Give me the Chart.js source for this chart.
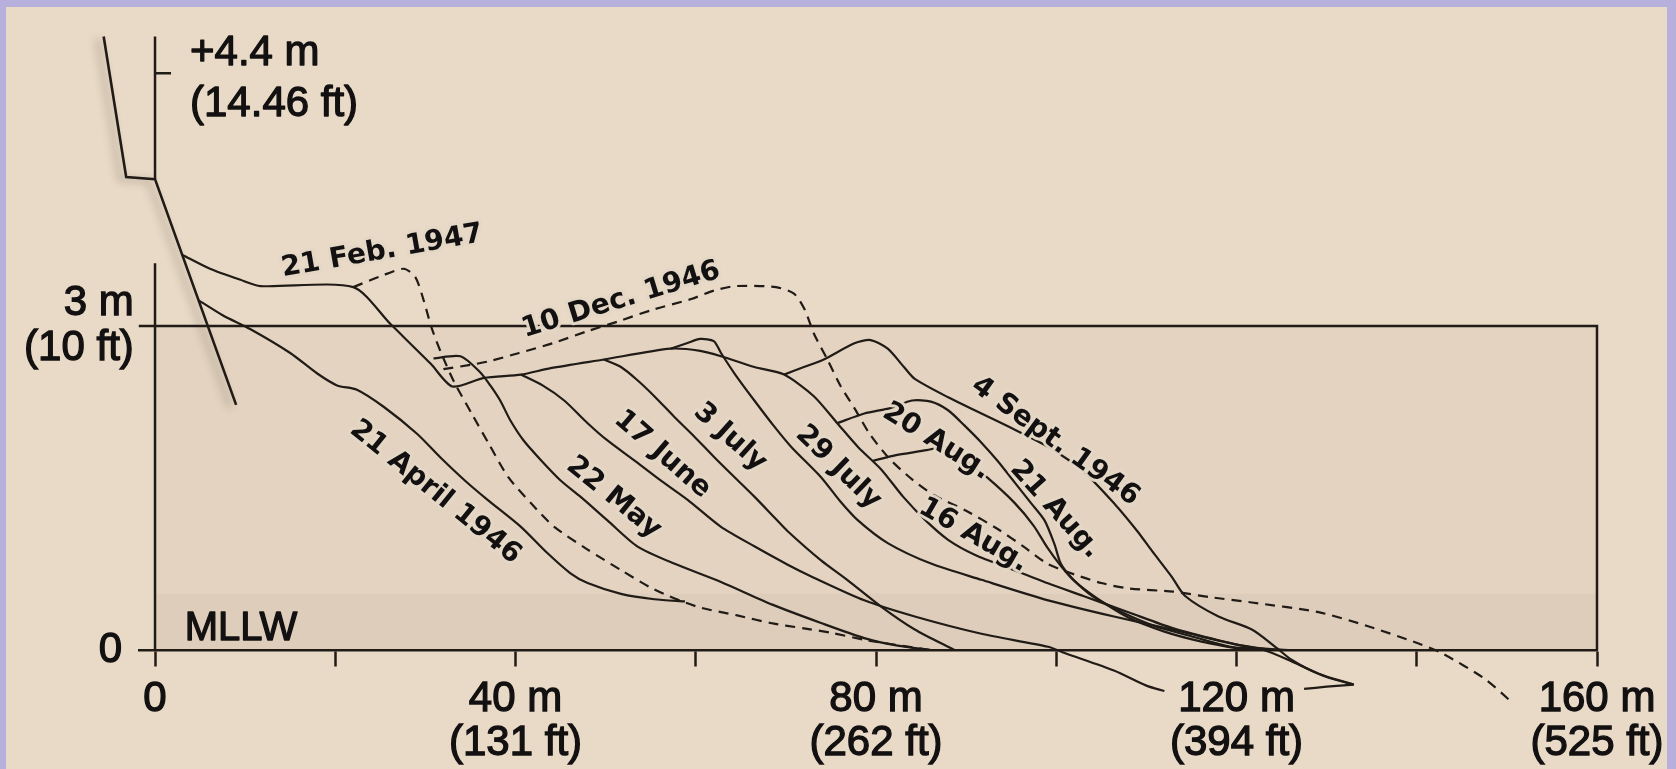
<!DOCTYPE html>
<html>
<head>
<meta charset="utf-8">
<script src="https://cdn.jsdelivr.net/npm/chart.js@4.4.1/dist/chart.umd.min.js"></script>
<style>
  html, body { margin: 0; padding: 0; background: #b7afdc; }
  #wrap { position: relative; width: 1676px; height: 769px; }
  canvas { display: block; }
</style>
</head>
<body>
<div id="wrap"><canvas id="profile"></canvas></div>
<script>
// Beach profiles: [distance seaward of the wall (m), elevation above MLLW (m)]
// (the wall is listed from its toe upward)
const seawall   = [[9.0,2.27],[0,4.36],[-3.2,4.38],[-5.7,5.68]];
const apr21     = [[4.8,3.24],[7.5,3.1],[10.6,2.97],[15.0,2.75],[18.0,2.56],[20.2,2.45],[22.4,2.41],[25.4,2.25],[29.1,2.0],[31.7,1.78],[34.5,1.56],[36.9,1.39],[40.6,1.14],[43.5,0.9],[46.1,0.71],[48.0,0.62],[51.7,0.52],[55.4,0.47],[58.8,0.45]];
const feb21     = [[22.0,3.36],[25.0,3.46],[27.6,3.53],[28.9,3.45],[29.8,3.24],[30.7,2.98],[31.8,2.74],[33.2,2.48],[35.2,2.18],[37.1,1.9],[39.2,1.6],[41.7,1.36],[44.3,1.14],[48.0,0.93],[51.7,0.74],[55.4,0.56],[60.2,0.4],[64.6,0.32],[68.3,0.25],[72.0,0.2],[75.0,0.16],[79.0,0.09],[86.0,0.0]];
const aug16     = [[3.0,3.66],[6.1,3.53],[9.4,3.43],[11.7,3.37],[22.0,3.36],[26.1,3.02],[30.6,2.65],[33.0,2.44],[36.5,2.52],[40.6,2.55],[43.9,2.61],[49.8,2.69],[57.2,2.79],[60.5,2.77],[62.8,2.72],[66.5,2.62],[69.8,2.55],[73.1,2.35],[75.7,2.1],[78.0,1.88],[80.6,1.67],[83.0,1.42],[85.5,1.2],[88.0,1.02],[91.0,0.88],[95.0,0.75],[99.0,0.62],[103.0,0.5],[108.0,0.35],[113.0,0.2],[118.0,0.09],[122.0,0.02],[126.0,0.0]];
const may22     = [[30.9,2.7],[33.9,2.72],[36.1,2.57],[37.2,2.45],[38.3,2.31],[39.4,2.13],[40.9,1.94],[42.8,1.76],[45.0,1.57],[47.2,1.42],[50.2,1.2],[53.5,0.96],[57.6,0.8],[62.8,0.63],[68.5,0.42],[73.9,0.25],[78.7,0.11],[82.4,0.04],[86.1,0.0]];
const jun17     = [[40.6,2.55],[43.0,2.45],[45.4,2.31],[48.0,2.1],[50.2,1.94],[53.1,1.76],[56.1,1.57],[59.1,1.39],[62.8,1.14],[66.5,0.96],[70.2,0.79],[73.1,0.67],[78.7,0.46],[84.3,0.31],[91.7,0.15],[99.1,0.03],[101.0,-0.03],[106.4,-0.19],[110.0,-0.33],[112.0,-0.38],[120.0,null],[127.5,-0.36],[130.0,-0.34],[133.0,-0.32]];
const jul03     = [[49.8,2.69],[51.7,2.62],[53.5,2.5],[55.4,2.35],[57.6,2.16],[59.8,1.98],[62.0,1.79],[64.3,1.6],[66.5,1.42],[68.7,1.23],[70.2,1.1],[73.9,0.83],[76.8,0.65],[80.6,0.4],[84.3,0.19],[88.7,0.0]];
const jul29     = [[57.2,2.79],[59.0,2.84],[60.5,2.88],[62.0,2.86],[62.8,2.75],[64.3,2.56],[66.5,2.31],[68.7,2.07],[70.6,1.88],[73.9,1.6],[76.0,1.38],[78.0,1.2],[81.3,0.99],[86.1,0.8],[91.7,0.65],[99.1,0.46],[106.4,0.31],[113.9,0.17],[120.0,0.05],[124.0,0.0]];
const aug20     = [[75.7,2.1],[78.7,2.19],[81.6,2.24],[84.0,2.31],[86.1,2.3],[88.0,2.22],[89.8,2.08],[91.7,1.92],[93.5,1.75],[95.4,1.55],[97.2,1.36],[98.7,1.2],[99.8,0.98],[100.5,0.8],[101.8,0.66],[104.0,0.5],[107.3,0.35],[111.0,0.22],[115.3,0.12],[119.3,0.03],[123.0,0.0],[126.5,-0.12],[130.0,-0.25],[133.0,-0.32]];
const aug21     = [[79.6,1.75],[82.0,1.8],[85.6,1.85],[87.5,1.88],[88.3,1.86],[90.0,1.75],[92.3,1.6],[95.4,1.36],[97.5,1.15],[99.0,0.95],[100.5,0.78],[102.0,0.64],[104.5,0.48],[108.0,0.3],[112.0,0.17],[116.0,0.08],[121.0,0.0]];
const sep04     = [[69.8,2.55],[72.0,2.62],[74.2,2.69],[77.6,2.84],[79.4,2.87],[81.3,2.79],[83.1,2.62],[84.3,2.51],[88.0,2.34],[91.7,2.19],[95.4,2.04],[99.1,1.88],[102.8,1.67],[106.5,1.35],[109.0,1.1],[110.6,0.92],[112.8,0.68],[114.3,0.5],[118.0,0.31],[121.7,0.19],[124.3,0.03],[126.1,-0.09],[129.1,-0.22],[133.0,-0.32]];
const dec10     = [[32.0,2.6],[35.0,2.64],[36.9,2.67],[40.4,2.75],[44.1,2.84],[47.9,2.95],[51.3,3.04],[55.2,3.15],[59.5,3.25],[62.1,3.33],[64.5,3.37],[68.9,3.36],[70.9,3.3],[72.1,3.15],[73.1,2.93],[74.6,2.69],[76.1,2.44],[77.6,2.24],[79.3,2.0],[81.5,1.77],[84.0,1.58],[86.5,1.43],[90.0,1.29],[93.5,1.12],[96.5,0.95],[99.0,0.8],[102.0,0.7],[105.0,0.62],[108.0,0.57],[113.0,0.54],[117.0,0.49],[121.7,0.44],[129.1,0.35],[134.6,0.22],[140.2,0.06],[142.8,-0.03],[147.6,-0.27],[150.5,-0.48]];

// Axis ticks
const xTickMeters = [0, 20, 40, 60, 80, 100, 120, 140, 160];
const xTickText   = ['0', '', ['40 m','(131 ft)'], '', ['80 m','(262 ft)'], '', ['120 m','(394 ft)'], '', ['160 m','(525 ft)']];
const yTickMeters = [0, 3];
const yTickText   = ['0 ', ['3 m','(10 ft)']];
// the axis is broken above 3.6 m, so the crest mark sits on a compressed upper segment
const crestMark     = 5.34;
const crestMarkText = ['+4.4 m', '(14.46 ft)'];

// Survey-date captions, anchored in metres along the profile they name
const captions = [
  { text: '21 Feb. 1947',  x: 25.2, y: 3.69, angle: -10 },
  { text: '10 Dec. 1946',  x: 51.7, y: 3.24, angle: -17 },
  { text: '21 April 1946', x: 31.1, y: 1.46, angle: 39 },
  { text: '22 May',        x: 50.9, y: 1.41, angle: 39 },
  { text: '17 June',       x: 56.3, y: 1.81, angle: 41 },
  { text: '3 July',        x: 63.8, y: 1.97, angle: 42 },
  { text: '29 July',       x: 75.8, y: 1.69, angle: 44 },
  { text: '16 Aug.',       x: 90.8, y: 1.06, angle: 30 },
  { text: '20 Aug.',       x: 86.7, y: 1.93, angle: 32 },
  { text: '21 Aug.',       x: 99.9, y: 1.30, angle: 48 },
  { text: '4 Sept. 1946',  x: 99.9, y: 1.93, angle: 36 }
];

const INK = '#201b16';
const TEXT = '#121010';
const PAPER = '#e9dac7';
const FRAME_FILL = 'rgba(110, 90, 70, 0.05)';
const LOW_BAND_FILL = 'rgba(110, 90, 70, 0.05)';
const AXIS_FONT = '"Liberation Sans", Arial, sans-serif';

const toPoints = arr => arr.map(([x, y]) => ({ x, y }));
const solid = (label, arr, extra) => Object.assign({
  label, data: toPoints(arr), borderColor: INK, borderWidth: 2.2,
  pointRadius: 0, tension: 0.25, clip: false, fill: false, spanGaps: false
}, extra || {});
const dashed = (label, arr) => solid(label, arr, { borderDash: [10, 7] });

// page, panel and shaded survey box behind the plot
const backdropPlugin = {
  id: 'backdrop',
  beforeDraw(chart) {
    const { ctx, width, height, scales: { x, y } } = chart;
    ctx.save();
    ctx.fillStyle = '#b7afdc';
    ctx.fillRect(0, 0, width, height);
    ctx.fillStyle = PAPER;
    ctx.fillRect(6, 7, width - 15, height - 7);
    const x0 = x.getPixelForValue(0), x1 = x.getPixelForValue(160);
    const y0 = y.getPixelForValue(0), y3 = y.getPixelForValue(3), yb = y.getPixelForValue(0.52);
    ctx.fillStyle = FRAME_FILL;
    ctx.fillRect(x0, y3, x1 - x0, y0 - y3);
    ctx.fillStyle = LOW_BAND_FILL;
    ctx.fillRect(x0, yb, x1 - x0, y0 - yb);
    ctx.restore();
  }
};

// shadow under the sea wall stroke
const wallShadowPlugin = {
  id: 'wallShadow',
  beforeDatasetDraw(chart, args) {
    if (args.index !== 0) return;
    const ctx = chart.ctx;
    ctx.save();
    ctx.shadowColor = 'rgba(70, 60, 50, 0.45)';
    ctx.shadowBlur = 9;
    ctx.shadowOffsetX = -6;
    ctx.shadowOffsetY = 2;
  },
  afterDatasetDraw(chart, args) {
    if (args.index !== 0) return;
    chart.ctx.restore();
  }
};

const heavyText = (ctx, text, x, y) => {
  ctx.strokeText(text, x, y);
  ctx.fillText(text, x, y);
};

// broken vertical axis, the survey box outline, crest mark and captions
const frameAndCaptions = {
  id: 'frameAndCaptions',
  afterDatasetsDraw(chart) {
    const { ctx, chartArea, scales: { x, y } } = chart;
    const px = v => x.getPixelForValue(v), py = v => y.getPixelForValue(v);
    ctx.save();
    ctx.strokeStyle = INK;
    ctx.lineWidth = 2.5;
    ctx.lineCap = 'butt';
    ctx.beginPath();
    // lower and upper segments of the vertical axis
    ctx.moveTo(px(0), py(3.58)); ctx.lineTo(px(0), py(0));
    ctx.moveTo(px(0), py(5.68)); ctx.lineTo(px(0), py(4.36));
    // crest mark
    ctx.moveTo(px(0), py(crestMark)); ctx.lineTo(px(0) + 16, py(crestMark));
    // survey box: top edge at 3 m, seaward edge at 160 m
    ctx.moveTo(chartArea.left, py(3)); ctx.lineTo(px(160), py(3));
    ctx.lineTo(px(160), py(0));
    ctx.stroke();

    ctx.fillStyle = TEXT;
    ctx.strokeStyle = TEXT;
    ctx.lineWidth = 1.3;
    ctx.lineJoin = 'round';
    ctx.textAlign = 'left';
    ctx.textBaseline = 'middle';
    ctx.font = '42px ' + AXIS_FONT;
    heavyText(ctx, crestMarkText[0], px(0) + 35, py(crestMark) - 20);
    heavyText(ctx, crestMarkText[1], px(0) + 35, py(crestMark) + 31);
    ctx.textBaseline = 'alphabetic';
    ctx.font = '40px ' + AXIS_FONT;
    heavyText(ctx, 'MLLW', px(3.3), py(0.09));

    ctx.font = 'bold 28px "DejaVu Sans", sans-serif';
    ctx.textAlign = 'center';
    ctx.textBaseline = 'middle';
    captions.forEach(c => {
      ctx.save();
      ctx.translate(px(c.x), py(c.y));
      ctx.rotate(c.angle * Math.PI / 180);
      ctx.strokeStyle = 'rgba(228, 215, 197, 0.95)';
      ctx.lineWidth = 6;
      ctx.strokeText(c.text, 0, 0);
      ctx.fillStyle = TEXT;
      ctx.fillText(c.text, 0, 0);
      ctx.restore();
    });
    ctx.restore();
  }
};

const noEdgePadding = s => { s.paddingTop = 0; s.paddingBottom = 0; s.paddingLeft = 0; s.paddingRight = 0; };

new Chart(document.getElementById('profile'), {
  type: 'line',
  data: {
    datasets: [
      solid('Sea wall', seawall, { borderWidth: 2.6, tension: 0 }),
      solid('21 April 1946', apr21),
      dashed('21 Feb. 1947', feb21),
      solid('16 Aug.', aug16),
      solid('22 May', may22),
      solid('17 June', jun17),
      solid('3 July', jul03),
      solid('29 July', jul29),
      solid('20 Aug.', aug20),
      solid('21 Aug.', aug21),
      solid('4 Sept. 1946', sep04),
      dashed('10 Dec. 1946', dec10)
    ]
  },
  options: {
    responsive: true,
    maintainAspectRatio: false,
    devicePixelRatio: 1,
    animation: false,
    layout: { padding: { left: 8.8, right: 79, top: 18.2, bottom: 48.8 } },
    plugins: { legend: { display: false }, tooltip: { enabled: false } },
    scales: {
      x: {
        type: 'linear',
        min: -1.8, max: 160,
        position: { y: 0 },
        z: 1,
        afterBuildTicks: s => { s.ticks = xTickMeters.map(v => ({ value: v })); },
        afterFit: noEdgePadding,
        grid: { drawOnChartArea: false, drawTicks: true, tickLength: 15, tickWidth: 2.5, tickColor: INK },
        border: { display: true, color: INK, width: 2.5 },
        ticks: {
          autoSkip: false, maxRotation: 0, padding: 12,
          color: TEXT, textStrokeColor: TEXT, textStrokeWidth: 1.3,
          font: { family: AXIS_FONT, size: 42, lineHeight: 1.05 },
          callback: (v, i) => xTickText[i]
        }
      },
      y: {
        type: 'linear',
        min: -0.65, max: 5.85,
        position: 'left',
        afterBuildTicks: s => { s.ticks = yTickMeters.map(v => ({ value: v })); },
        afterFit: s => { noEdgePadding(s); s.width = 130; },
        grid: { display: false, drawTicks: false },
        border: { display: false },
        ticks: {
          padding: 5,
          color: TEXT, textStrokeColor: TEXT, textStrokeWidth: 1.3,
          font: { family: AXIS_FONT, size: 42, lineHeight: 1.07 },
          callback: (v, i) => yTickText[i]
        }
      }
    }
  },
  plugins: [backdropPlugin, wallShadowPlugin, frameAndCaptions]
});
</script>
</body>
</html>
